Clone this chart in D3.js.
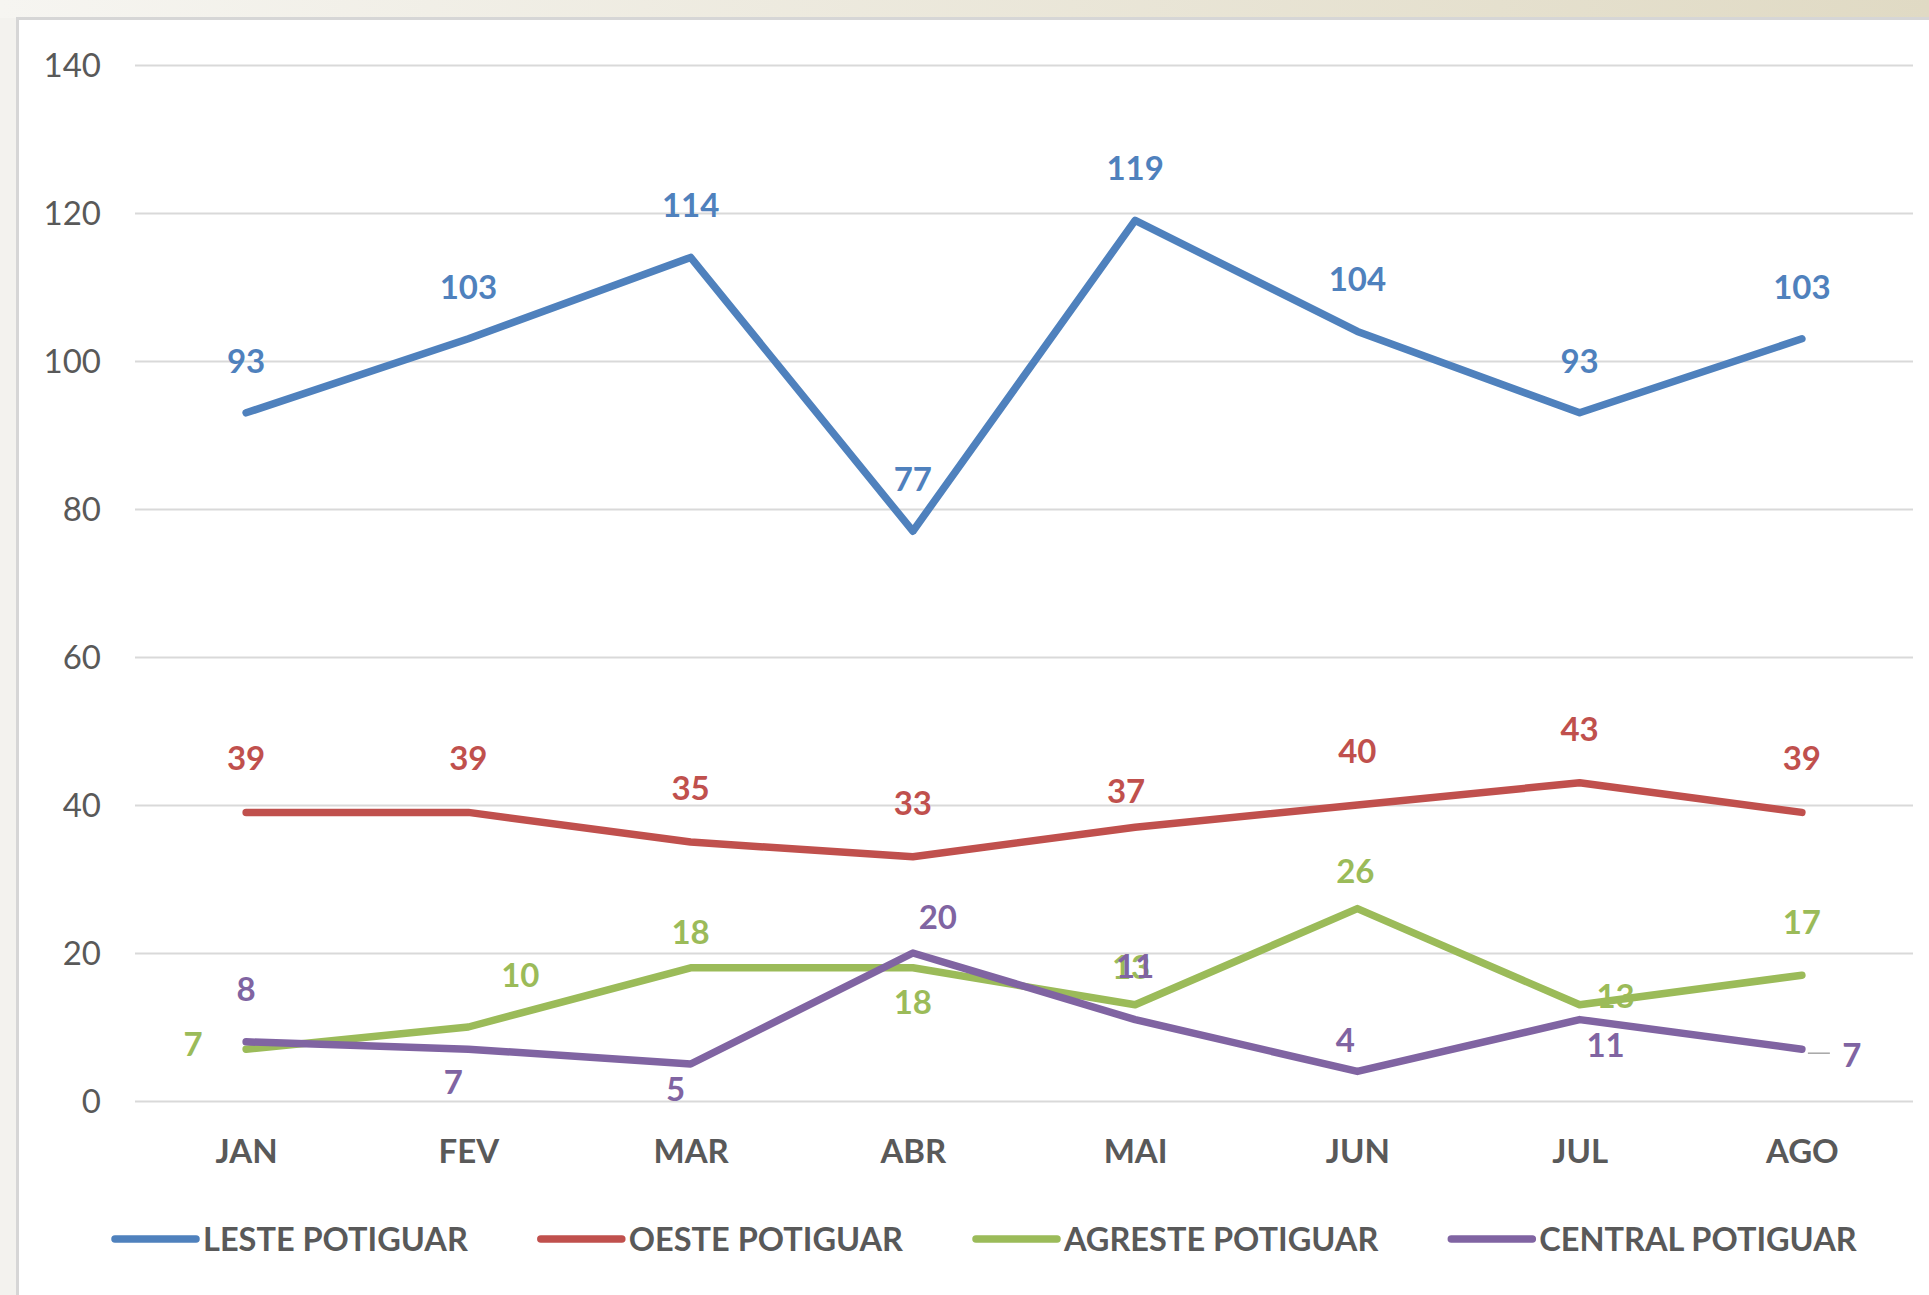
<!DOCTYPE html>
<html>
<head>
<meta charset="utf-8">
<script src="https://cdn.jsdelivr.net/npm/d3@7"></script>
<style>
  body { margin: 0; background: #f3f2ee; }
  svg { display: block; }
  text { font-family: Lato, "Open Sans", sans-serif; }
</style>
</head>
<body>
<svg id="chart" width="1929" height="1295"></svg>
<script>
// ---- data ----
const months = ["JAN", "FEV", "MAR", "ABR", "MAI", "JUN", "JUL", "AGO"];
const yTicks = [0, 20, 40, 60, 80, 100, 120, 140];

const seriesNames = ["LESTE POTIGUAR", "OESTE POTIGUAR", "AGRESTE POTIGUAR", "CENTRAL POTIGUAR"];
const leste   = [93, 103, 114, 77, 119, 104, 93, 103];
const oeste   = [39, 39, 35, 33, 37, 40, 43, 39];
const agreste = [7, 10, 18, 18, 13, 26, 13, 17];
const central = [8, 7, 5, 20, 11, 4, 11, 7];

const colors = ["#4f81bd", "#c0504d", "#9bbb59", "#8064a2"];

// where each data label sits relative to its point (manual, like in the original)
const labelNudge = [
  [[0,-52],[0,-52],[0,-52],[0,-52],[0,-52],[0,-52],[0,-52],[0,-52]],
  [[0,-54],[0,-54],[0,-54],[0,-54],[-9,-36],[0,-54],[0,-54],[0,-54]],
  [[-53,-5],[52,-52],[0,-36],[0,34],[-4,-38],[-2,-37],[36,-9],[0,-53]],
  [[0,-53],[-15,33],[-15,25],[25,-36],[0,-53],[-12,-31],[26,26],[50,6]]
];

const svg = d3.select("#chart");

// ---- background / card ----
const defs = svg.append("defs");
const grad = defs.append("linearGradient").attr("id", "band").attr("x1", "0").attr("x2", "1");
grad.append("stop").attr("offset", "0").attr("stop-color", "#f6f5f1");
grad.append("stop").attr("offset", "1").attr("stop-color", "#e0dac4");
svg.append("rect").attr("x", 0).attr("y", 0).attr("width", 1929).attr("height", 18).attr("fill", "url(#band)");
svg.append("rect")
  .attr("x", 17.5).attr("y", 18.5).attr("width", 1950).attr("height", 1300)
  .attr("fill", "#ffffff").attr("stroke", "#d6d6d6").attr("stroke-width", 3);

// ---- scales ----
const plotLeft = 135, plotRight = 1913, plotTop = 65, plotBottom = 1101;
const x = d3.scaleBand().domain(months).range([plotLeft, plotRight]);
const cx = m => x(m) + x.bandwidth() / 2;
const y = d3.scaleLinear().domain([0, 140]).range([plotBottom, plotTop]);

// ---- y axis + gridlines ----
const yAxis = svg.append("g")
  .attr("transform", `translate(${plotLeft},0)`)
  .call(d3.axisLeft(y).tickValues(yTicks).tickSize(-(plotRight - plotLeft)).tickPadding(34));
yAxis.select(".domain").remove();
yAxis.selectAll(".tick line").attr("stroke", "#d9d9d9").attr("stroke-width", 2);
yAxis.selectAll(".tick text")
  .attr("fill", "#595959")
  .style("font-size", "33px")
  .attr("dy", "0.36em");

// ---- x axis labels ----
const xAxis = svg.append("g")
  .attr("transform", `translate(0,${plotBottom})`)
  .call(d3.axisBottom(d3.scalePoint().domain(months).range([cx(months[0]), cx(months[7])])).tickSize(0));
xAxis.select(".domain").remove();
xAxis.selectAll(".tick text")
  .attr("y", 62).attr("dy", 0)
  .attr("fill", "#595959")
  .style("font-size", "33px")
  .style("font-weight", "bold");

// ---- lines ----
const allSeries = [leste, oeste, agreste, central];
const line = d3.line()
  .x((d, i) => cx(months[i]))
  .y(d => y(d));

allSeries.forEach((vals, s) => {
  svg.append("path")
    .datum(vals)
    .attr("d", line)
    .attr("fill", "none")
    .attr("stroke", colors[s])
    .attr("stroke-width", 7.5)
    .attr("stroke-linecap", "round")
    .attr("stroke-linejoin", "round");
});

// leader line for the last CENTRAL label
svg.append("line")
  .attr("x1", cx("AGO") + 6).attr("x2", cx("AGO") + 28)
  .attr("y1", y(central[7]) + 4).attr("y2", y(central[7]) + 4)
  .attr("stroke", "#a6a6a6").attr("stroke-width", 1.5);

// ---- data labels ----
allSeries.forEach((vals, s) => {
  svg.append("g").selectAll("text")
    .data(vals)
    .join("text")
    .attr("x", (d, i) => cx(months[i]) + labelNudge[s][i][0])
    .attr("y", (d, i) => y(d) + labelNudge[s][i][1])
    .attr("dy", "0.36em")
    .attr("text-anchor", "middle")
    .attr("fill", colors[s])
    .style("font-size", "33px")
    .style("font-weight", "bold")
    .text(d => d);
});

// ---- legend ----
const legend = svg.append("g").attr("transform", "translate(112,1239)");
let lx = 0;
seriesNames.forEach((name, s) => {
  const item = legend.append("g").attr("transform", `translate(${lx},0)`);
  item.append("line")
    .attr("x1", 3).attr("x2", 84).attr("y1", 0).attr("y2", 0)
    .attr("stroke", colors[s]).attr("stroke-width", 7.5).attr("stroke-linecap", "round");
  const t = item.append("text")
    .attr("x", 91).attr("dy", "0.36em")
    .attr("fill", "#595959")
    .style("font-size", "32.5px")
    .style("font-weight", "bold")
    .text(name);
  lx += 91 + t.node().getComputedTextLength() + 70;
});
</script>
</body>
</html>
